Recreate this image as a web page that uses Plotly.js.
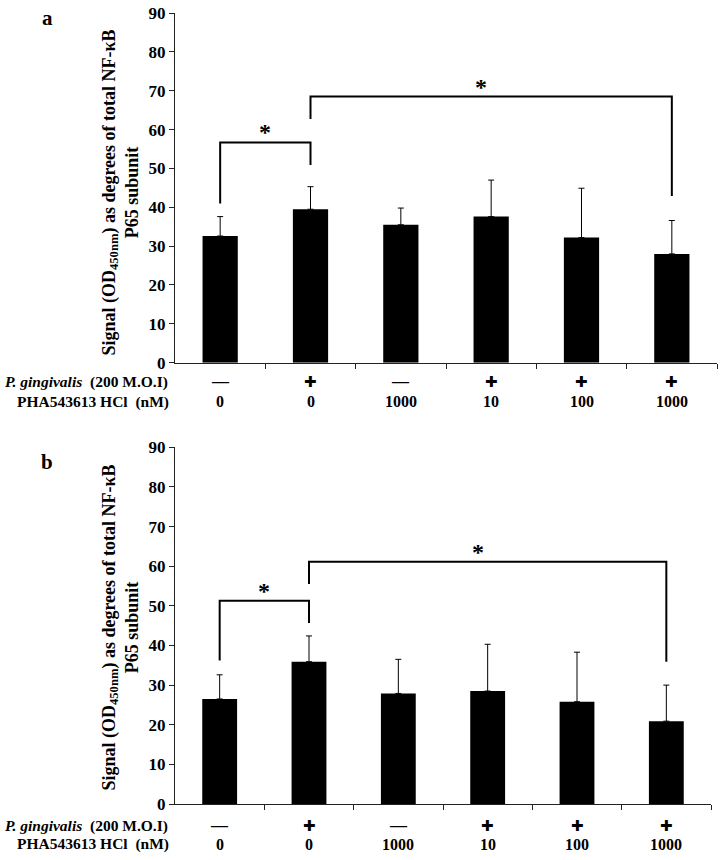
<!DOCTYPE html>
<html>
<head>
<meta charset="utf-8">
<script src="https://cdn.plot.ly/plotly-3.0.1.min.js"></script>
<style>html,body{margin:0;padding:0;background:#fff;}#chart{width:725px;height:860px;}</style>
</head>
<body>
<div id="chart"></div>
<script>
// ---- data ----
const pgLabels = ['—', '✚', '—', '✚', '✚', '✚'];
const phaLabels = ['0', '0', '1000', '10', '100', '1000'];
const valuesA = [32.6, 39.5, 35.5, 37.6, 32.2, 28.0];
const errorsA = [5.0, 5.8, 4.3, 9.4, 12.7, 8.6];
const valuesB = [26.5, 35.9, 27.9, 28.5, 25.8, 20.9];
const errorsB = [6.1, 6.5, 8.6, 11.8, 12.5, 9.1];
// significance brackets: [fromIndex, toIndex, barLevel, leftLegEnd, rightLegEnd]
const bracketsA = [[0, 1, 56.7, 41.0, 50.9], [1, 5, 68.5, 62.7, 42.9]];
const bracketsB = [[0, 1, 51.3, 36.2, 45.7], [1, 5, 61.1, 55.5, 35.9]];
const rowLabel1 = '<i>P. gingivalis</i>\u00A0\u00A0(200 M.O.I)';
const rowLabel2 = 'PHA543613 HCl\u00A0\u00A0(nM)';
const yTitle = 'Signal (OD<sub>450nm</sub>) as degrees of total NF-κB<br>P65 subunit';

// ---- layout helpers ----
const W = 725, H = 860;
const px = v => v / W;
const py = v => 1 - v / H;
const serif = 'Liberation Serif, Times New Roman, serif';
const idx = pgLabels.map((_, i) => i);

function barTrace(vals, errs, xa, ya) {
  return {
    type: 'bar', x: idx, y: vals, xaxis: xa, yaxis: ya, width: 0.39,
    marker: {color: '#000000', line: {width: 0}},
    error_y: {type: 'data', symmetric: false, array: errs, arrayminus: errs.map(() => 0),
              color: '#000000', thickness: 1, width: 3},
    showlegend: false, hoverinfo: 'skip'
  };
}

function yax(domain, anchor) {
  return {
    domain: domain, anchor: anchor, range: [0, 90], dtick: 10, tick0: 0,
    showline: true, linecolor: '#222', linewidth: 1, ticks: 'outside', ticklen: 5, tickcolor: '#222',
    showgrid: false, zeroline: false,
    tickfont: {family: serif, size: 17, color: '#000', weight: 700}
  };
}
function xax(domain, anchor) {
  return {
    domain: domain, anchor: anchor, range: [-0.5, 5.5],
    tickvals: [0.5, 1.5, 2.5, 3.5, 4.5, 5.5], showticklabels: false,
    showline: true, linecolor: '#222', linewidth: 1, ticks: 'outside', ticklen: 5, tickcolor: '#222',
    showgrid: false, zeroline: false
  };
}

const shapes = [];
const annotations = [];

function addBrackets(brs, xr, yr) {
  brs.forEach(b => {
    const [a, c, lvl, l0, l1] = b;
    shapes.push({type: 'path', xref: xr, yref: yr,
      path: `M ${a},${l0} L ${a},${lvl} L ${c},${lvl} L ${c},${l1}`,
      line: {color: '#000', width: 2}});
    annotations.push({xref: xr, yref: yr, x: (a + c) / 2, y: lvl, text: '*', showarrow: false,
      xanchor: 'center', yanchor: 'bottom', yshift: -5, xshift: (c - a) > 1 ? -10 : 0,
      font: {family: serif, size: 24, color: '#000', weight: 700}});
  });
}

function addRows(xr, y1, y2) {
  pgLabels.forEach((t, i) => {
    annotations.push({xref: xr, yref: 'paper', x: i, y: py(y1), text: t, showarrow: false,
      xanchor: 'center', yanchor: 'middle',
      font: {family: t === '—' ? serif : 'DejaVu Sans, sans-serif', size: t === '—' ? 17 : 15, color: '#000', weight: 700}});
  });
  phaLabels.forEach((t, i) => {
    annotations.push({xref: xr, yref: 'paper', x: i, y: py(y2), text: t, showarrow: false,
      xanchor: 'center', yanchor: 'middle',
      font: {family: serif, size: 16, color: '#000', weight: 700}});
  });
  annotations.push({xref: 'paper', yref: 'paper', x: px(170), y: py(y1), text: rowLabel1, showarrow: false,
    xanchor: 'right', yanchor: 'middle', font: {family: serif, size: 15.5, color: '#000', weight: 700}});
  annotations.push({xref: 'paper', yref: 'paper', x: px(171), y: py(y2), text: rowLabel2, showarrow: false,
    xanchor: 'right', yanchor: 'middle', font: {family: serif, size: 15.5, color: '#000', weight: 700}});
}

function addTitle(cy, letter, ly) {
  annotations.push({xref: 'paper', yref: 'paper', x: px(120), y: py(cy), text: yTitle, showarrow: false,
    textangle: -90, xanchor: 'center', yanchor: 'middle', align: 'center',
    font: {family: serif, size: 18, color: '#000', weight: 700}});
  annotations.push({xref: 'paper', yref: 'paper', x: px(47), y: py(ly), text: letter, showarrow: false,
    xanchor: 'center', yanchor: 'middle', font: {family: serif, size: 21, color: '#000', weight: 700}});
}

addBrackets(bracketsA, 'x', 'y');
addBrackets(bracketsB, 'x2', 'y2');
addRows('x', 381.7, 401.7);
addRows('x2', 825.7, 844);
addTitle(192.5, 'a', 18.5);
addTitle(627.5, 'b', 461.5);

const layout = {
  width: W, height: H,
  margin: {l: 0, r: 0, t: 0, b: 0},
  paper_bgcolor: '#fff', plot_bgcolor: '#fff',
  xaxis: xax([px(175), px(717)], 'y'),
  yaxis: yax([py(362.7), py(13)], 'x'),
  xaxis2: xax([px(175), px(711)], 'y2'),
  yaxis2: yax([py(804), py(447.3)], 'x2'),
  shapes: shapes,
  annotations: annotations,
  bargap: 0.6
};

Plotly.newPlot('chart', [barTrace(valuesA, errorsA, 'x', 'y'), barTrace(valuesB, errorsB, 'x2', 'y2')], layout,
  {staticPlot: true, displayModeBar: false});
</script>
</body>
</html>
